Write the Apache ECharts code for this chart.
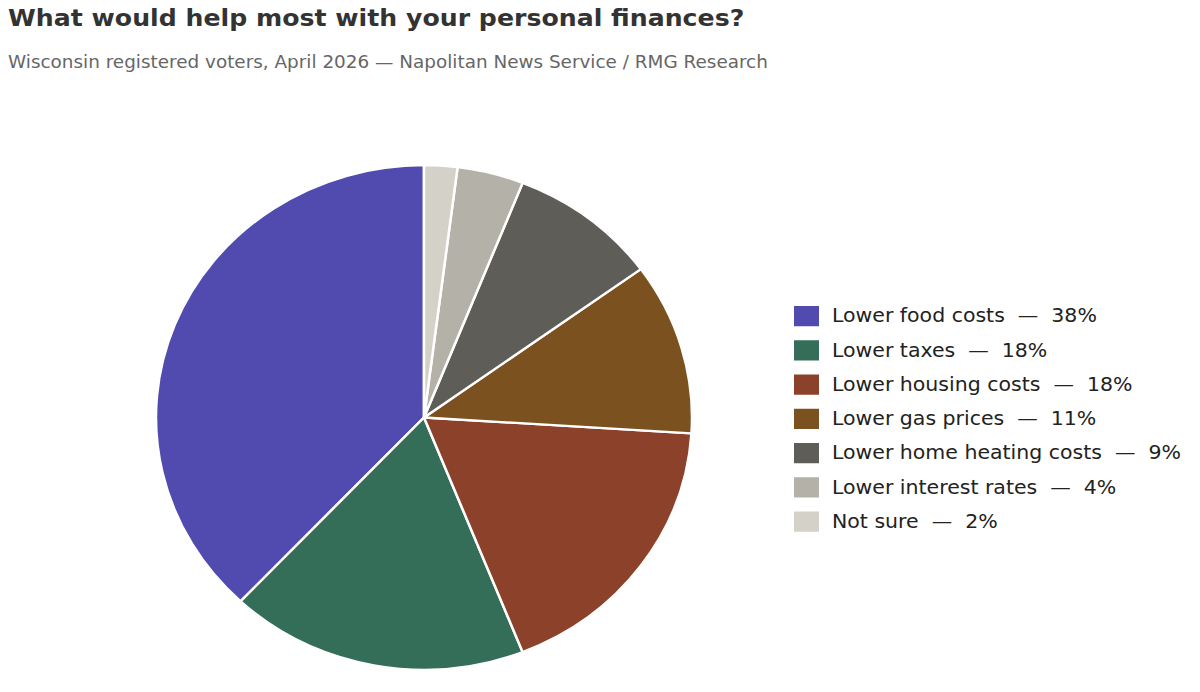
<!DOCTYPE html>
<html>
<head>
<meta charset="utf-8">
<script src="https://cdn.jsdelivr.net/npm/echarts@6/dist/echarts.min.js"></script>
<style>
  html, body { margin: 0; padding: 0; background: #fff; overflow: hidden; }
  /* the source image was rendered taller and squeezed to 692px high */
  #main { width: 1200px; height: 735px; transform-origin: 0 0; transform: scaleY(0.9415); }
</style>
</head>
<body>
<div id="main"></div>
<script>
var categories = ['Lower food costs', 'Lower taxes', 'Lower housing costs', 'Lower gas prices',
  'Lower home heating costs', 'Lower interest rates', 'Not sure'];
var values = [38, 18, 18, 11, 9, 4, 2];
var colors = ['#514bb0', '#346d58', '#8c412a', '#7c5120', '#5e5d58', '#b4b1a9', '#d4d1c8'];

var pieData = categories.map(function(c, i) {
  return { name: c, value: values[i], itemStyle: { color: colors[i] } };
});

var font = "'DejaVu Sans', sans-serif";

var chart = echarts.init(document.getElementById('main'), null, { renderer: 'svg' });
chart.setOption({
  animation: false,
  backgroundColor: '#fff',
  title: [
    {
      text: 'What would help most with your personal finances?',
      left: 3,
      top: 1,
      textStyle: { fontFamily: font, fontSize: 25.2, fontWeight: 'bold', color: '#333' }
    },
    {
      text: 'Wisconsin registered voters, April 2026 \u2014 Napolitan News Service / RMG Research',
      left: 3,
      top: 51,
      textStyle: { fontFamily: font, fontSize: 18.4, fontWeight: 'normal', color: '#666' }
    }
  ],
  legend: {
    orient: 'vertical',
    left: 787,
    top: 318,
    icon: 'rect',
    itemWidth: 27,
    itemHeight: 23.4,
    itemGap: 11,
    selectedMode: false,
    data: categories,
    textStyle: { fontFamily: font, fontSize: 20.5, color: '#222', padding: [0, 0, 0, 7] },
    formatter: function(name) {
      var i = categories.indexOf(name);
      return name + '  \u2014  ' + values[i] + '%';
    }
  },
  series: [{
    type: 'pie',
    center: [424, 443.4],
    radius: [0, 268],
    startAngle: 90,
    clockwise: false,
    label: { show: false },
    labelLine: { show: false },
    emphasis: { disabled: true },
    itemStyle: { borderColor: '#fff', borderWidth: 2.5 },
    data: pieData
  }]
});
</script>
</body>
</html>
